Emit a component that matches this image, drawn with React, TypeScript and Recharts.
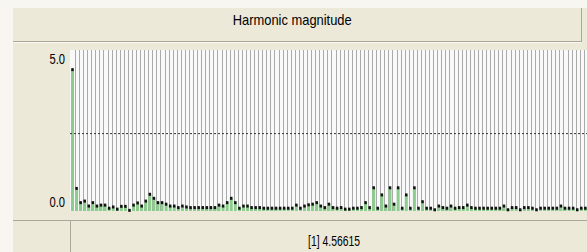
import React from 'react';
import { ComposedChart, Bar, XAxis, YAxis, ReferenceLine, CartesianGrid } from 'recharts';

const magnitudes: number[] = [
  4.566,
  0.73, 0.27, 0.32, 0.16, 0.27, 0.16, 0.19, 0.19, 0.09, 0.13, 0.06, 0.15, 0.15, 0.02, 0.19, 0.26, 0.16, 0.32, 0.54, 0.41, 0.27,
  0.27, 0.22, 0.16, 0.16, 0.11, 0.16, 0.13, 0.11, 0.11, 0.11, 0.11, 0.11, 0.11, 0.11, 0.19, 0.16, 0.27, 0.41, 0.27, 0.09, 0.16, 0.16, 0.11, 0.11,
  0.11, 0.09, 0.09, 0.09, 0.09, 0.09, 0.09, 0.09, 0.09, 0.19, 0.09, 0.16, 0.2, 0.22, 0.27, 0.16, 0.11, 0.22, 0.11, 0.09, 0.11, 0.06, 0.06, 0.09, 0.09,
  0.11, 0.27, 0.11, 0.75, 0.09, 0.52, 0.16, 0.75, 0.22, 0.75, 0.09, 0.52, 0.09, 0.75, 0.09, 0.3, 0.09, 0.09, 0.04, 0.16, 0.11, 0.09, 0.16, 0.09, 0.11,
  0.11, 0.19, 0.11, 0.09, 0.09, 0.09, 0.09, 0.09, 0.09, 0.09, 0.16, 0.04, 0.11, 0.11, 0.04, 0.11, 0.11, 0.09, 0.04, 0.09, 0.09, 0.09, 0.09, 0.09, 0.16, 0.09, 0.09, 0.09, 0.04, 0.09, 0.09, 0.09,
];
const harmonicOrders: number[] = magnitudes.map((_, i) => i + 1);
const yTicks: number[] = [0, 5];
const yTickLabels: string[] = ['0.0', '5.0'];
const midLevel = 2.5;
const titleText = 'Harmonic magnitude';
const readoutText = '[1] 4.56615';

const data = harmonicOrders.map((h, i) => ({ h, v: magnitudes[i] }));

const FONT = '"Liberation Sans", Arial, sans-serif';

const BarWithDot = (props: any) => {
  const { x, y, width, height } = props;
  const cx = x + width / 2;
  return (
    <g>
      <rect x={x} y={y} width={width} height={Math.max(height, 0)} fill="#8ccc8c" />
      <rect x={cx - 1.25} y={y - 1.5} width={2.5} height={3} fill="#111" />
    </g>
  );
};

const GridLine = (props: any) => {
  const { x, y, width, height } = props;
  const gx = Math.round(x + width + 1) + 0.5;
  return <line x1={gx} x2={gx} y1={y} y2={y + height} stroke="#aaaaaa" strokeWidth={1} />;
};

const YTick = (props: any) => {
  const { x, y, payload } = props;
  const idx = yTicks.indexOf(payload.value);
  const dy = payload.value === 0 ? -4 : 8;
  return (
    <text transform={`translate(${x + 3},${y + dy}) scale(0.8,1)`} textAnchor="end" fontFamily={FONT} fontSize={14} fill="#000">
      {yTickLabels[idx]}
    </text>
  );
};

const condensed = (sx: number): React.CSSProperties => ({ display: 'inline-block', transform: `scaleX(${sx})`, transformOrigin: 'center' });

export default function App() {
  return (
    <div style={{ position: 'fixed', left: 0, top: 0, width: 587, height: 252, overflow: 'hidden', background: '#f7f6f1' }}>
      <div style={{ position: 'absolute', left: 13, top: 8, right: 0, bottom: 0, background: '#ECE9D8' }} />
      <div style={{ position: 'absolute', left: 13, top: 41, width: 568, height: 1, background: '#a9a79c' }} />
      <div style={{ position: 'absolute', left: 13, top: 42, width: 568, height: 1, background: '#f8f7f2' }} />
      <div style={{ position: 'absolute', left: 581, top: 8, width: 1, height: 34, background: '#a9a79c' }} />
      <div style={{ position: 'absolute', left: 13, top: 220, width: 574, height: 1, background: '#a9a79c' }} />
      <div style={{ position: 'absolute', left: 70, top: 220, width: 1, height: 32, background: '#a9a79c' }} />
      <div style={{ position: 'absolute', left: 13, top: 10, width: 558, height: 20, textAlign: 'center', fontFamily: FONT, fontSize: 15, lineHeight: '20px', color: '#000' }}>
        <span style={condensed(0.86)}>{titleText}</span>
      </div>
      <div style={{ position: 'absolute', left: 70, top: 231, width: 528, height: 20, textAlign: 'center', fontFamily: FONT, fontSize: 14, lineHeight: '20px', color: '#000' }}>
        <span style={condensed(0.74)}>{readoutText}</span>
      </div>
      <div style={{ position: 'absolute', left: 0, top: 0 }}>
        <ComposedChart width={600} height={252} data={data} margin={{ top: 50, right: 9, bottom: 41, left: 0 }} barCategoryGap={0}>
          <CartesianGrid fill="#f9f9f9" horizontal={false} vertical={false} />
          <XAxis dataKey="h" hide />
          <YAxis width={70} domain={[0, 5.2]} ticks={yTicks} axisLine={false} tickLine={false} tick={<YTick />} interval={0} />
          <Bar dataKey="v" barSize={3} isAnimationActive={false} shape={<BarWithDot />} background={<GridLine />} />
          <ReferenceLine y={midLevel} stroke="#333" strokeDasharray="2 2" ifOverflow="extendDomain" />
        </ComposedChart>
      </div>
    </div>
  );
}
